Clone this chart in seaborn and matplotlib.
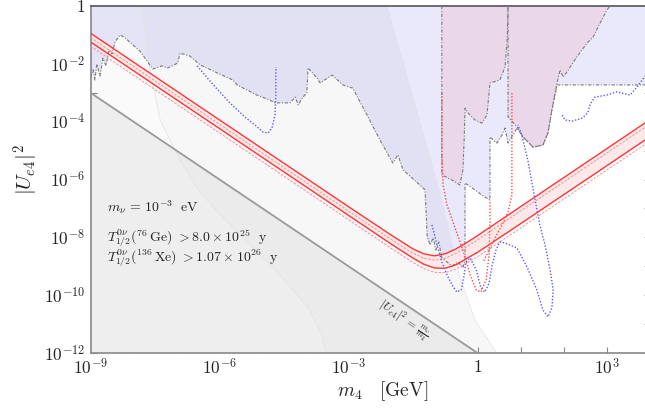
import numpy as np
import pandas as pd
import matplotlib
matplotlib.use("Agg")
import matplotlib.pyplot as plt
import seaborn as sns

# ---------------- data (log10 values) ----------------
# gray line |U|^2 = m_nu / m4 (endpoints)
gray_line_logm = [-9.0, 0.0]
gray_line_logU = [-3.0, -12.0]

# excluded region (lavender) lower edge
blue_logm = [-9.0, -8.94, -8.90, -8.85, -8.78, -8.71, -8.64, -8.57, -8.50, -8.43, -8.31, -8.19,
             -7.85, -7.55, -7.34, -7.20, -6.97, -6.92, -6.69, -6.45, -5.69, -5.59, -5.13, -4.83,
             -4.71, -4.36, -4.24, -4.17, -4.06, -3.97, -3.94, -3.90, -3.73, -3.66, -3.38, -3.13,
             -2.90, -2.57, -2.27, -1.97, -1.85, -1.73, -1.34, -1.22, -1.17, -1.10, -1.03, -0.97,
             -0.90, -0.83, -0.71, -0.59, -0.45, -0.34, -0.29, -0.29, -0.06, 0.10, 0.29, 0.29,
             0.45, 0.57, 0.64, 0.71, 0.92, 1.06, 1.29, 1.52, 1.64, 1.73, 1.85, 4.0]
blue_logU = [-2.49, -2.21, -2.56, -2.01, -2.42, -1.80, -2.07, -1.52, -1.66, -1.24, -1.00, -1.11,
             -1.56, -2.18, -2.07, -2.14, -1.97, -1.63, -1.73, -2.04, -2.56, -2.73, -3.08, -3.25,
             -3.35, -3.35, -3.15, -3.42, -3.15, -3.01, -2.14, -2.21, -2.49, -2.66, -2.39, -2.73,
             -2.84, -3.77, -4.63, -5.43, -5.15, -5.67, -6.19, -6.36, -7.99, -8.26, -8.02, -8.44,
             -8.16, -8.71, -8.85, -8.99, -8.85, -9.06, -8.78, -6.12, -6.36, -6.54, -6.71, -4.53,
             -4.74, -4.46, -4.22, -4.74, -4.22, -4.53, -4.88, -4.81, -4.39, -3.60, -2.73, -2.73]

# pink regions
pink1_logm = [-0.83, -0.83, -0.59, -0.41, -0.34, -0.31, -0.29, -0.22, -0.06, 0.10, 0.22, 0.29,
              0.52, 0.64, 0.69, 0.71]
pink1_logU = [0.0, -5.84, -6.02, -6.19, -5.67, -4.63, -3.53, -3.70, -3.94, -4.05, -3.77, -2.66,
              -2.56, -2.11, -1.18, 0.0]
pink2_logm = [0.71, 0.71, 0.92, 1.06, 1.29, 1.52, 1.64, 1.73, 1.85, 1.92, 1.99, 2.08, 2.31,
              2.55, 2.69, 2.85, 3.01, 3.08]
pink2_logU = [0.0, -3.84, -4.18, -4.53, -4.88, -4.81, -4.39, -3.60, -2.66, -2.21, -2.46, -2.28,
              -1.76, -1.28, -1.07, -0.59, -0.14, 0.0]

# faint shaded region boundaries
faintA_logm = [-2.10, -1.48, -0.83, -0.41, -0.06, 0.45]
faintA_logU = [0.0, -3.25, -6.71, -9.37, -10.86, -12.0]
faintB_logm = [-7.80, -7.66, -7.38, -6.92, -6.45, -5.52, -4.59, -3.90, -3.62, -3.52]
faintB_logU = [0.0, -1.87, -3.94, -5.33, -6.47, -7.92, -9.30, -10.51, -11.38, -12.0]

# 0vbb band (solid limits) and dashed companions
band_logm = [-9.0, -6.0, -3.0, -2.0, -1.5, -1.25, -1.0, -0.75, -0.5, -0.25, 0.0, 1.0, 4.0]
upper_logU = [-0.94, -3.94, -6.94, -7.93, -8.40, -8.57, -8.64, -8.57, -8.40, -8.18, -7.94, -6.94, -3.94]
lower_logU = [-1.24, -4.24, -7.24, -8.24, -8.72, -8.93, -9.06, -9.07, -8.95, -8.73, -8.52, -7.53, -4.53]
upper_dash_logU = [-1.09, -4.09, -7.09, -8.08, -8.55, -8.72, -8.79, -8.72, -8.55, -8.33, -8.09, -7.09, -4.09]
lower_dash_logU = [-1.39, -4.39, -7.39, -8.39, -8.87, -9.08, -9.21, -9.22, -9.10, -8.88, -8.67, -7.68, -4.68]

# blue dotted curves
b1_logm = [-6.52, -6.34, -6.10, -5.76, -5.41, -5.17, -4.99, -4.87, -4.78, -4.71, -4.69, -4.69]
b1_logU = [-2.07, -2.39, -2.80, -3.35, -3.84, -4.12, -4.36, -4.39, -4.22, -3.77, -3.08, -2.11]
b2_logm = [-1.06, -0.94, -0.83, -0.71, -0.59, -0.48, -0.38, -0.31, -0.27, -0.17, -0.03, 0.08,
           0.17, 0.27, 0.34, 0.43, 0.52, 0.64, 0.92, 1.15, 1.38, 1.52, 1.64, 1.73, 1.76, 1.69,
           1.57, 1.45, 1.34, 1.17, 1.03, 0.94]
b2_logU = [-7.57, -8.26, -8.85, -9.30, -9.65, -9.89, -9.82, -9.30, -8.85, -8.71, -9.13, -9.75,
           -9.89, -9.58, -8.96, -8.44, -8.16, -8.20, -8.37, -9.02, -9.82, -10.51, -10.75, -10.44,
           -9.82, -9.13, -8.26, -7.57, -6.71, -5.33, -4.46, -4.11]
b3_logm = [1.97, 2.03, 2.20, 2.45, 2.57, 2.62, 2.73, 3.01, 3.24, 3.55, 3.71, 3.83, 3.90]
b3_logU = [-3.77, -3.94, -3.98, -3.87, -3.67, -3.39, -3.15, -3.08, -2.97, -3.08, -2.80, -2.56, -2.42]

# red dotted curves
r1_logm = [-0.83, -0.83, -0.80, -0.71, -0.52, -0.34, -0.17, -0.03, 0.08, 0.20, 0.27, 0.29, 0.29]
r1_logU = [-3.01, -4.98, -6.19, -6.88, -7.68, -8.44, -9.30, -9.82, -9.89, -9.47, -8.61, -7.40, -6.71]
r2_logm = [0.80, 0.80, 0.71, 0.57, 0.43, 0.27, 0.13]
r2_logU = [-3.01, -6.54, -7.12, -7.57, -7.95, -8.44, -8.85]

x_ticks = [-9, -6, -3, 0, 3]
x_tick_labels = [r"$10^{-9}$", r"$10^{-6}$", r"$10^{-3}$", r"$1$", r"$10^{3}$"]
y_ticks = [0, -2, -4, -6, -8, -10, -12]
y_tick_labels = [r"$1$", r"$10^{-2}$", r"$10^{-4}$", r"$10^{-6}$", r"$10^{-8}$", r"$10^{-10}$", r"$10^{-12}$"]

# ---------------- figure ----------------
sns.set_theme(style="ticks")
plt.rcParams["mathtext.fontset"] = "cm"
plt.rcParams["font.family"] = ["DejaVu Serif"]

fig = plt.figure(figsize=(6.45, 4.09), dpi=100)
ax = fig.add_axes([90.5 / 645, (409 - 353) / 409, 559 / 645, 347 / 409])
ax.set_xscale("log")
ax.set_yscale("log")
ax.set_xlim(1e-9, 1e4)
ax.set_ylim(1e-12, 1)

P = lambda a: np.power(10.0, np.asarray(a, dtype=float))

# gray triangle below |U|^2 = m_nu/m4
gx = P(gray_line_logm); gy = P(gray_line_logU)
ax.fill(np.r_[gx, gx[0]], np.r_[gy, 1e-13], color="#f3f3f3", lw=0, zorder=1)

# blue excluded region
bx = P(blue_logm); by = P(blue_logU)
ax.fill(np.r_[bx, 1e4, 1e-9], np.r_[by, 3.0, 3.0], color="#e9e9fb", lw=0, zorder=1.1)
# pink regions
for xs, ys in [(pink1_logm, pink1_logU), (pink2_logm, pink2_logU)]:
    ax.fill(P(xs), P(ys), color="#ead8ea", lw=0, zorder=1.2)

# faint overlays
fa_x = P(faintA_logm); fa_y = P(faintA_logU)
ax.fill(np.r_[1e-9, fa_x, 1e-9], np.r_[1.0, fa_y, 1e-12], color="black", alpha=0.02, lw=0, zorder=1.6)
fb_x = P(faintB_logm); fb_y = P(faintB_logU)
ax.fill(np.r_[fb_x, fa_x[::-1]], np.r_[fb_y, fa_y[::-1]], color="black", alpha=0.01, lw=0, zorder=1.6)
ax.plot(fb_x, fb_y, color="#e2e2e2", lw=0.5, zorder=1.7)
ax.plot(fa_x, fa_y, color="#e2e2e2", lw=0.5, zorder=1.7)

# band fill
ax.fill_between(P(band_logm), P(lower_logU), P(upper_logU), color="#fde9e9", lw=0, zorder=1.8)

dashdot = (0, (3, 1.5, 1, 1.5))
ax.plot(bx, by, color="#7a7a7a", lw=0.8, ls=dashdot, zorder=3)
for xs, ys in [(pink1_logm, pink1_logU), (pink2_logm, pink2_logU)]:
    ax.plot(P(xs), P(ys), color="#7a7a7a", lw=0.8, ls=dashdot, zorder=3)

# gray line
sns.lineplot(x=gx, y=gy, ax=ax, color="#9a9a9a", lw=1.3, zorder=3)

# red band lines
bm = P(band_logm)
for ys in (upper_logU, lower_logU):
    sns.lineplot(x=bm, y=P(ys), ax=ax, color="#ff3535", lw=1.0, zorder=4, sort=False, estimator=None)
for ys in (upper_dash_logU, lower_dash_logU):
    sns.lineplot(x=bm, y=P(ys), ax=ax, color="#ff8c8c", lw=0.7, zorder=4, sort=False,
                 estimator=None, linestyle=(0, (2.5, 1.5)))

# dotted curves
dot = (0, (1, 1.3))
for xs, ys in [(b1_logm, b1_logU), (b2_logm, b2_logU), (b3_logm, b3_logU)]:
    sns.lineplot(x=P(xs), y=P(ys), ax=ax, color="#5a5aff", lw=1.0, zorder=4, sort=False,
                 estimator=None, linestyle=dot)
for xs, ys in [(r1_logm, r1_logU), (r2_logm, r2_logU)]:
    sns.lineplot(x=P(xs), y=P(ys), ax=ax, color="#ff4a4a", lw=1.0, zorder=4, sort=False,
                 estimator=None, linestyle=dot)

# texts
ax.text(10**-8.62, 10**-6.95, r"$m_\nu\,=\,10^{-3}\ \ \mathrm{eV}$", fontsize=10, va="center", ha="left", zorder=5)
ax.text(10**-8.62, 10**-8.02, r"$T^{0\nu}_{1/2}(^{76}\,\mathrm{Ge})\ >8.0\times 10^{25}\ \ \mathrm{y}$",
        fontsize=10, va="center", ha="left", zorder=5)
ax.text(10**-8.62, 10**-8.71, r"$T^{0\nu}_{1/2}(^{136}\,\mathrm{Xe})\ >1.07\times 10^{26}\ \ \mathrm{y}$",
        fontsize=10, va="center", ha="left", zorder=5)
ax.text(10**-1.73, 10**-10.86, r"$|U_{e4}|^2\,=\,\frac{m_\nu}{m_4}$", fontsize=8.5, rotation=-33.9,
        rotation_mode="anchor", ha="center", va="center", zorder=5)

# axes styling
ax.set_xticks(P(np.arange(-9, 5)))
ax.set_xticklabels([x_tick_labels[x_ticks.index(k)] if k in x_ticks else "" for k in range(-9, 5)])
ax.xaxis.set_minor_locator(matplotlib.ticker.NullLocator())
ax.set_yticks(P(np.arange(-12, 1)))
ax.set_yticklabels([y_tick_labels[y_ticks.index(k)] if k in y_ticks else "" for k in range(-12, 1)])
ax.yaxis.set_minor_locator(matplotlib.ticker.NullLocator())
ax.tick_params(axis="both", which="major", direction="in", length=4, width=0.8, color="#888888",
               labelsize=12.5, top=True, right=True, pad=4)
for s in ax.spines.values():
    s.set_color("#888888")
    s.set_linewidth(1.2)
ax.spines["top"].set_color("#555555")

ax.set_xlabel(r"$m_4\ \ \ [\mathrm{GeV}]$", fontsize=14)
ax.xaxis.set_label_coords(0.523, -0.11)
ax.xaxis.label.set_va("center")
ax.set_ylabel(r"$|U_{e4}|^2$", fontsize=15)
ax.yaxis.set_label_coords(-0.115, 0.527)
ax.yaxis.label.set_va("center")
ax.grid(False)

fig.savefig("out.png", dpi=100)
